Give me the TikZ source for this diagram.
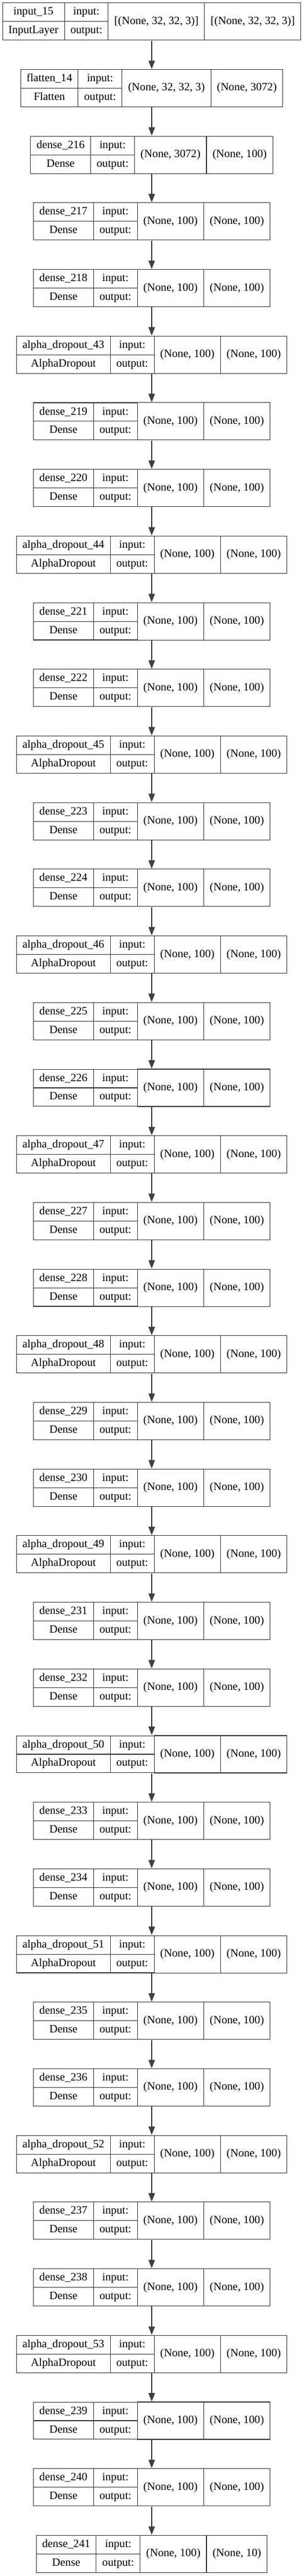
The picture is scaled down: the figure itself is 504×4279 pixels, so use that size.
\documentclass[tikz,border=0pt]{standalone}
\usepackage{fontspec}
\setmainfont{Liberation Serif}
\usepackage{tikz}
\usetikzlibrary{arrows.meta, shapes.multipart, matrix}
\definecolor{boxgray}{RGB}{64,64,64}

\begin{document}
\begin{tikzpicture}[
        x=0.75pt, y=-0.75pt,
        % one keras layer: name/class, input/output, two shapes
        layer/.style={matrix, inner sep=0pt, column sep=-0.8pt,
            ampersand replacement=\&,
            nodes={draw=boxgray, line width=0.8pt, anchor=center,
                font=\fontsize{14pt}{17pt}\selectfont}},
        namecell/.style={rectangle split, rectangle split parts=2,
            inner xsep=7.5pt, inner ysep=2.7pt},
        shapecell/.style={minimum height=46.5pt, inner xsep=7.5pt},
        flow/.style={draw=boxgray, line width=1pt,
            -{Triangle[length=10.5pt, width=8pt]}}
    ]
    \fill[white] (0,0) rectangle (504,4279);
    \useasboundingbox (0,0) rectangle (504,4279);

    \foreach \i/\nm/\cls/\ishape/\oshape in {
        0/input\_15/InputLayer/{[(None, 32, 32, 3)]}/{[(None, 32, 32, 3)]},
        1/flatten\_14/Flatten/{(None, 32, 32, 3)}/{(None, 3072)},
        2/dense\_216/Dense/{(None, 3072)}/{(None, 100)},
        3/dense\_217/Dense/{(None, 100)}/{(None, 100)},
        4/dense\_218/Dense/{(None, 100)}/{(None, 100)},
        5/alpha\_dropout\_43/AlphaDropout/{(None, 100)}/{(None, 100)},
        6/dense\_219/Dense/{(None, 100)}/{(None, 100)},
        7/dense\_220/Dense/{(None, 100)}/{(None, 100)},
        8/alpha\_dropout\_44/AlphaDropout/{(None, 100)}/{(None, 100)},
        9/dense\_221/Dense/{(None, 100)}/{(None, 100)},
        10/dense\_222/Dense/{(None, 100)}/{(None, 100)},
        11/alpha\_dropout\_45/AlphaDropout/{(None, 100)}/{(None, 100)},
        12/dense\_223/Dense/{(None, 100)}/{(None, 100)},
        13/dense\_224/Dense/{(None, 100)}/{(None, 100)},
        14/alpha\_dropout\_46/AlphaDropout/{(None, 100)}/{(None, 100)},
        15/dense\_225/Dense/{(None, 100)}/{(None, 100)},
        16/dense\_226/Dense/{(None, 100)}/{(None, 100)},
        17/alpha\_dropout\_47/AlphaDropout/{(None, 100)}/{(None, 100)},
        18/dense\_227/Dense/{(None, 100)}/{(None, 100)},
        19/dense\_228/Dense/{(None, 100)}/{(None, 100)},
        20/alpha\_dropout\_48/AlphaDropout/{(None, 100)}/{(None, 100)},
        21/dense\_229/Dense/{(None, 100)}/{(None, 100)},
        22/dense\_230/Dense/{(None, 100)}/{(None, 100)},
        23/alpha\_dropout\_49/AlphaDropout/{(None, 100)}/{(None, 100)},
        24/dense\_231/Dense/{(None, 100)}/{(None, 100)},
        25/dense\_232/Dense/{(None, 100)}/{(None, 100)},
        26/alpha\_dropout\_50/AlphaDropout/{(None, 100)}/{(None, 100)},
        27/dense\_233/Dense/{(None, 100)}/{(None, 100)},
        28/dense\_234/Dense/{(None, 100)}/{(None, 100)},
        29/alpha\_dropout\_51/AlphaDropout/{(None, 100)}/{(None, 100)},
        30/dense\_235/Dense/{(None, 100)}/{(None, 100)},
        31/dense\_236/Dense/{(None, 100)}/{(None, 100)},
        32/alpha\_dropout\_52/AlphaDropout/{(None, 100)}/{(None, 100)},
        33/dense\_237/Dense/{(None, 100)}/{(None, 100)},
        34/dense\_238/Dense/{(None, 100)}/{(None, 100)},
        35/alpha\_dropout\_53/AlphaDropout/{(None, 100)}/{(None, 100)},
        36/dense\_239/Dense/{(None, 100)}/{(None, 100)},
        37/dense\_240/Dense/{(None, 100)}/{(None, 100)},
        38/dense\_241/Dense/{(None, 100)}/{(None, 10)}} {
        \matrix (l\i) [layer] at (252, 35.75+110.7*\i) {
            \node[namecell] {\strut\nm\nodepart{two}\strut\cls}; \&
            \node[namecell] {\strut input:\nodepart{two}\strut output:}; \&
            \node[shapecell] {\ishape}; \&
            \node[shapecell] {\oshape}; \\
        };
    }

    % arrows from each layer to the next
    \foreach \i [count=\j from 1] in {0,...,37}
        \draw[flow] (l\i.south) -- (l\j.north);
\end{tikzpicture}
\end{document}
